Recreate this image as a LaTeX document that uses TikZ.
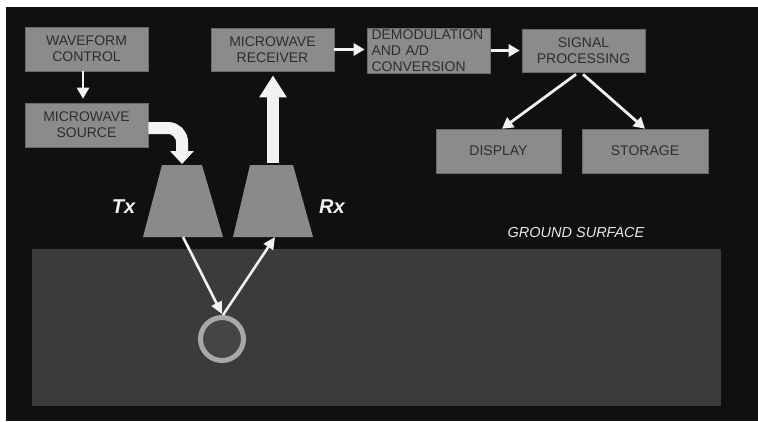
\documentclass[tikz,border=0pt]{standalone}
\usepackage{fontspec}
\setmainfont{Liberation Sans}
\usetikzlibrary{arrows.meta}
\definecolor{bgblack}{HTML}{101010}
\definecolor{boxgray}{HTML}{8B8B8B}
\definecolor{boxline}{HTML}{6A6A6A}
\definecolor{boxtext}{HTML}{2E2E2E}
\definecolor{horngray}{HTML}{8A8A8A}
\definecolor{groundgray}{HTML}{3B3B3B}
\definecolor{ringgray}{HTML}{A8A8A8}
\definecolor{holegray}{HTML}{454545}
\definecolor{arrowwhite}{HTML}{F2F2F2}
\begin{document}
\begin{tikzpicture}[x=1pt,y=-1pt,
  blockbox/.style={fill=boxgray, draw=boxline, line width=0.6pt, inner sep=0pt,
    align=center, text=boxtext, font=\fontsize{14}{16}\selectfont},
  thinarrow/.style={draw=arrowwhite, line width=2.8pt,
    -{Triangle[length=11pt,width=12pt]}},
  fatarrow/.style={draw=arrowwhite, line width=12pt,
    -{Triangle[length=22pt,width=26pt]}},
  rayarrow/.style={draw=arrowwhite, line width=2.6pt,
    -{Triangle[length=12pt,width=11pt]}},
  labeltext/.style={text=arrowwhite, font=\fontsize{20}{22}\selectfont\bfseries\itshape, inner sep=0pt}
]
% page and background
\fill[white] (0,0) rectangle (758,421);
\useasboundingbox (0,0) rectangle (758,421);
\fill[bgblack] (6,7) rectangle (758,421);

% ground
\fill[groundgray] (32,249) rectangle (721,406);
\node[text=arrowwhite!90!gray, font=\fontsize{14.5}{16}\selectfont\itshape, inner sep=0pt] (gs) at (576,233) {GROUND SURFACE};

% blocks
\node[blockbox, minimum width=123pt, minimum height=44pt] (wc) at (86.5,49) {WAVEFORM\\CONTROL};
\node[blockbox, minimum width=123pt, minimum height=44pt] (ms) at (86.5,125) {MICROWAVE\\SOURCE};
\node[blockbox, minimum width=123pt, minimum height=43pt] (mr) at (272.5,49.5) {MICROWAVE\\RECEIVER};
\node[blockbox, minimum width=123pt, minimum height=45pt, text width=114pt, align=left] (dm) at (428.5,50.5) {DEMODULATION\\AND A/D\\CONVERSION};
\node[blockbox, minimum width=123pt, minimum height=43pt] (sp) at (583.5,50.5) {SIGNAL\\PROCESSING};
\node[blockbox, minimum width=125pt, minimum height=44pt] (di) at (498.5,151) {DISPLAY};
\node[blockbox, minimum width=126pt, minimum height=44pt] (st) at (645,151) {STORAGE};

% horns
\coordinate (txtop) at (182,165);
\coordinate (txbot) at (183,237);
\coordinate (rxtop) at (273,165);
\coordinate (rxbot) at (275,237);
\fill[horngray] (143,237) -- (162,165) -- (202,165) -- (223,237) -- cycle;
\fill[horngray] (233,237) -- (250,165) -- (293,165) -- (313,237) -- cycle;
\node[labeltext] (tx) at (123.5,206.5) {Tx};
\node[labeltext] (rx) at (332,207) {Rx};

% buried target
\node[circle, draw=ringgray, fill=holegray, line width=5pt, minimum size=43pt, inner sep=0pt] (target) at (222,339) {};

% connectors
\draw[thinarrow] ([xshift=-3.5pt]wc.south) -- ([xshift=-3.5pt,yshift=4pt]ms.north);
\draw[thinarrow] (mr.east) -- ([xshift=-2pt]dm.west |- mr.east);
\draw[thinarrow] ([xshift=1pt]dm.east) -- ([xshift=-2pt]sp.west);
\draw[thinarrow] ([xshift=-7.5pt,yshift=-2pt]sp.south) -- ([xshift=3.5pt]di.north);
\draw[thinarrow] ([xshift=-0.5pt,yshift=-2pt]sp.south) -- (st.north);

\draw[fatarrow] ([yshift=2pt]rxtop) -- ([xshift=0.5pt,yshift=-4pt]mr.south);
\draw[draw=arrowwhite, line width=12pt, rounded corners=14pt, -{Triangle[length=13pt,width=23pt]}]
  ([yshift=-3pt]ms.east) -| (txtop |- 0,164);

\draw[rayarrow] (txbot) -- ([yshift=1pt]target.north);
\draw[rayarrow] ([xshift=1pt]target.north) -- (rxbot);
\end{tikzpicture}
\end{document}
